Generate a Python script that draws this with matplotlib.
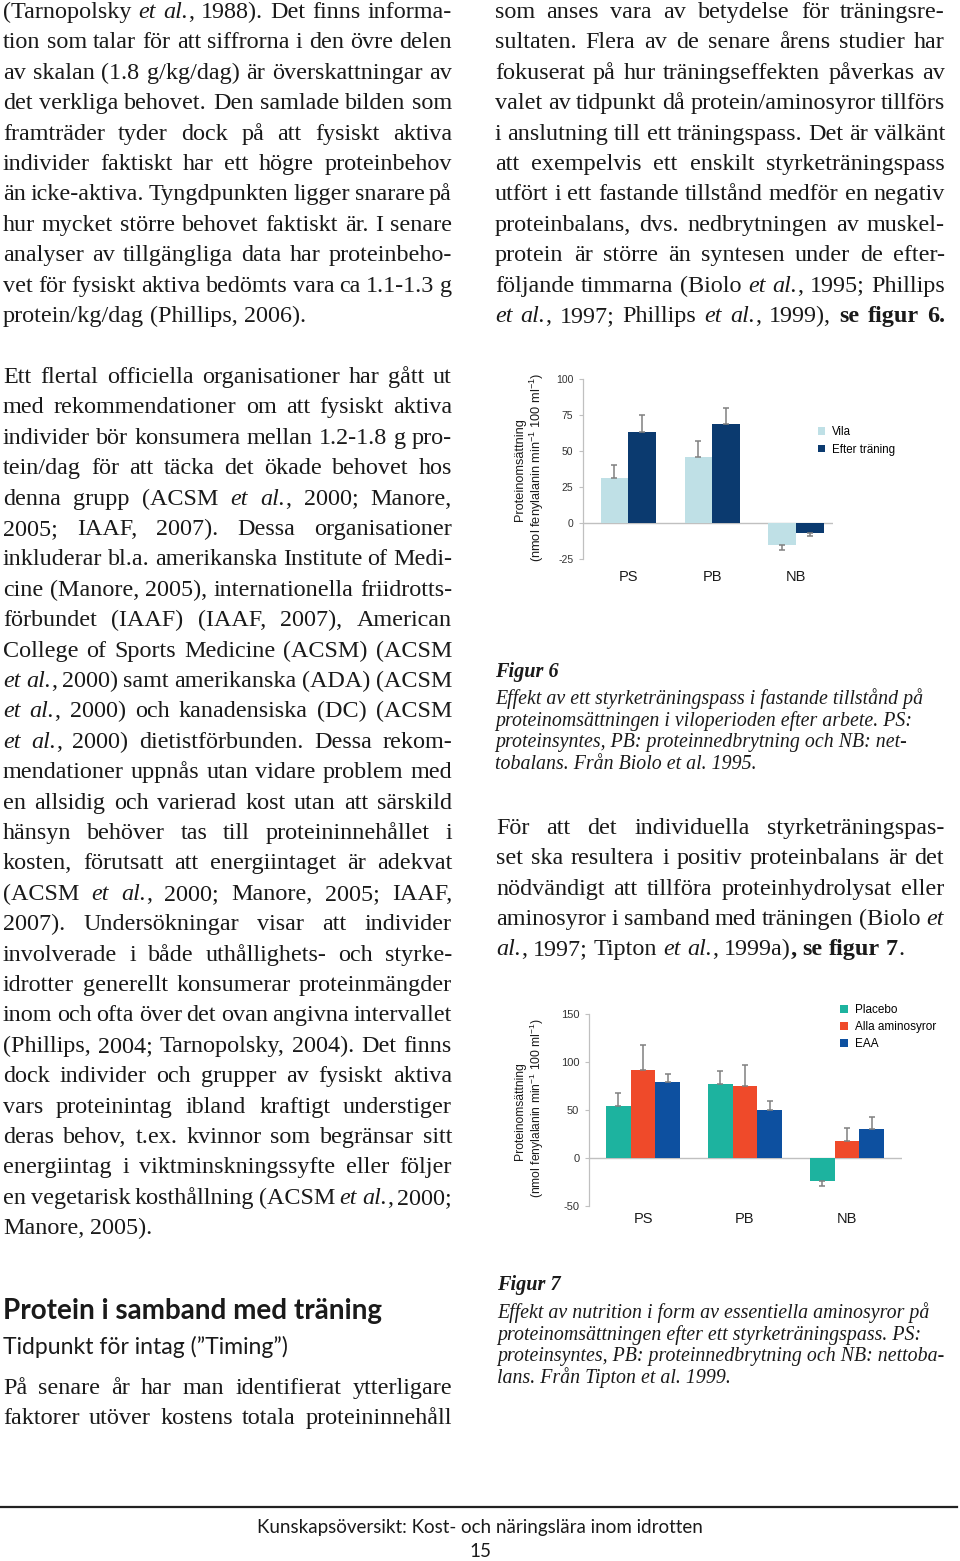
import re
import matplotlib
matplotlib.use("Agg")
import matplotlib.pyplot as plt
import numpy as np

plt.rcParams['mathtext.default'] = 'regular'

SERIF = 'Liberation Serif'
SANS = 'Liberation Sans'
HEAD = 'Lato'

# --- chart data ---------------------------------------------------------
groups = ['PS', 'PB', 'NB']

fig6_series = ['Vila', 'Efter träning']
fig6_values = [[31.5, 46.0, -15.0],
               [63.3, 68.6, -6.7]]
fig6_errors = [[9.0, 11.0, 3.5],
               [12.0, 11.0, 2.4]]
fig6_colors = ['#bfe0e6', '#0b3a6f']
fig6_yticks = [-25, 0, 25, 50, 75, 100]

fig7_series = ['Placebo', 'Alla aminosyror', 'EAA']
fig7_values = [[54.5, 77.2, -23.9],
               [91.4, 74.8, 17.7],
               [79.3, 50.2, 29.8]]
fig7_errors = [[13.0, 13.0, 5.2],
               [26.0, 22.5, 13.8],
               [8.3, 9.0, 13.0]]
fig7_colors = ['#1db39f', '#ef4a2a', '#0d50a0']
fig7_yticks = [-50, 0, 50, 100, 150]

ylabel1 = 'Proteinomsättning'
ylabel2 = r'(nmol fenylalanin min$^{-1}$ 100 ml$^{-1}$)'

# --- page text ----------------------------------------------------------
left_par1 = [
    "(Tarnopolsky {i:et} {i:al.}, 1988). Det finns informa-",
    "tion som talar för att siffrorna i den övre delen",
    "av skalan (1.8 g/kg/dag) är överskattningar av",
    "det verkliga behovet. Den samlade bilden som",
    "framträder tyder dock på att fysiskt aktiva",
    "individer faktiskt har ett högre proteinbehov",
    "än icke-aktiva. Tyngdpunkten ligger snarare på",
    "hur mycket större behovet faktiskt är. I senare",
    "analyser av tillgängliga data har proteinbeho-",
    "vet för fysiskt aktiva bedömts vara ca 1.1-1.3 g",
    "protein/kg/dag (Phillips, 2006).",
]
left_par2 = [
    "Ett flertal officiella organisationer har gått ut",
    "med rekommendationer om att fysiskt aktiva",
    "individer bör konsumera mellan 1.2-1.8 g pro-",
    "tein/dag för att täcka det ökade behovet hos",
    "denna grupp (ACSM {i:et} {i:al.}, 2000; Manore,",
    "2005; IAAF, 2007). Dessa organisationer",
    "inkluderar bl.a. amerikanska Institute of Medi-",
    "cine (Manore, 2005), internationella friidrotts-",
    "förbundet (IAAF) (IAAF, 2007), American",
    "College of Sports Medicine (ACSM) (ACSM",
    "{i:et} {i:al.}, 2000) samt amerikanska (ADA) (ACSM",
    "{i:et} {i:al.}, 2000) och kanadensiska (DC) (ACSM",
    "{i:et} {i:al.}, 2000) dietistförbunden. Dessa rekom-",
    "mendationer uppnås utan vidare problem med",
    "en allsidig och varierad kost utan att särskild",
    "hänsyn behöver tas till proteininnehållet i",
    "kosten, förutsatt att energiintaget är adekvat",
    "(ACSM {i:et} {i:al.}, 2000; Manore, 2005; IAAF,",
    "2007). Undersökningar visar att individer",
    "involverade i både uthållighets- och styrke-",
    "idrotter generellt konsumerar proteinmängder",
    "inom och ofta över det ovan angivna intervallet",
    "(Phillips, 2004; Tarnopolsky, 2004). Det finns",
    "dock individer och grupper av fysiskt aktiva",
    "vars proteinintag ibland kraftigt understiger",
    "deras behov, t.ex. kvinnor som begränsar sitt",
    "energiintag i viktminskningssyfte eller följer",
    "en vegetarisk kosthållning (ACSM {i:et} {i:al.}, 2000;",
    "Manore, 2005).",
]
left_par3 = [
    "På senare år har man identifierat ytterligare",
    "faktorer utöver kostens totala proteininnehåll",
]
right_par1 = [
    "som anses vara av betydelse för träningsre-",
    "sultaten. Flera av de senare årens studier har",
    "fokuserat på hur träningseffekten påverkas av",
    "valet av tidpunkt då protein/aminosyror tillförs",
    "i anslutning till ett träningspass. Det är välkänt",
    "att exempelvis ett enskilt styrketräningspass",
    "utfört i ett fastande tillstånd medför en negativ",
    "proteinbalans, dvs. nedbrytningen av muskel-",
    "protein är större än syntesen under de efter-",
    "följande timmarna (Biolo {i:et} {i:al.}, 1995; Phillips",
    "{i:et} {i:al.}, 1997; Phillips {i:et} {i:al.}, 1999), {b:se} {b:figur} {b:6.}",
]
right_par2 = [
    "För att det individuella styrketräningspas-",
    "set ska resultera i positiv proteinbalans är det",
    "nödvändigt att tillföra proteinhydrolysat eller",
    "aminosyror i samband med träningen (Biolo {i:et}",
    "{i:al.}, 1997; Tipton {i:et} {i:al.}, 1999a){b:,} {b:se} {b:figur} {b:7}.",
]
caption6 = [
    "Effekt av ett styrketräningspass i fastande tillstånd på",
    "proteinomsättningen i viloperioden efter arbete. PS:",
    "proteinsyntes, PB: proteinnedbrytning och NB: net-",
    "tobalans. Från Biolo et al. 1995.",
]
caption7 = [
    "Effekt av nutrition i form av essentiella aminosyror på",
    "proteinomsättningen efter ett styrketräningspass. PS:",
    "proteinsyntes, PB: proteinnedbrytning och NB: nettoba-",
    "lans. Från Tipton et al. 1999.",
]

W, H = 960, 1561
BODY = 17.4
fig = plt.figure(figsize=(W / 100, H / 100), dpi=100)
page = fig.add_axes([0, 0, 1, 1])
page.set_xlim(0, W)
page.set_ylim(H, 0)
page.axis('off')
renderer = fig.canvas.get_renderer()

STYLES = {'r': {}, 'i': {'fontstyle': 'italic'}, 'b': {'fontweight': 'bold'}}
RUN = re.compile(r'\{([ib]):([^}]*)\}')
INK = '#1a1a1a'


def parse_word(token):
    runs, pos = [], 0
    for m in RUN.finditer(token):
        if m.start() > pos:
            runs.append((token[pos:m.start()], 'r'))
        runs.append((m.group(2), m.group(1)))
        pos = m.end()
    if pos < len(token):
        runs.append((token[pos:], 'r'))
    return runs


def width_of(t):
    return t.get_window_extent(renderer).width


def set_line(x0, x1, y, line, size, justify):
    words = []
    for token in line.split():
        runs = []
        for s, st in parse_word(token):
            t = page.text(0, y, s, fontsize=size, family=SERIF, color=INK,
                          va='baseline', ha='left', **STYLES[st])
            runs.append(t)
        words.append(runs)
    space = size * 100 / 72 * 0.25
    widths = [sum(width_of(t) for t in runs) for runs in words]
    n_gap = max(len(words) - 1, 1)
    natural = sum(widths) + n_gap * space * 0.6
    if natural > x1 - x0:
        # squeeze an overlong line a little
        scale = (x1 - x0) / natural
        for runs in words:
            for t in runs:
                t.set_fontsize(size * scale)
        widths = [sum(width_of(t) for t in runs) for runs in words]
    if justify and len(words) > 1:
        gap = (x1 - x0 - sum(widths)) / n_gap
    else:
        gap = space
    x = x0
    for runs in words:
        for t in runs:
            t.set_x(x)
            x += width_of(t)
        x += gap


def paragraph(x0, x1, y0, step, lines, size=BODY, justify_last=False):
    for k, line in enumerate(lines):
        last = k == len(lines) - 1
        set_line(x0, x1, y0 + k * step, line, size, justify_last or not last)


def fitted(x, y, s, width, size, **kw):
    t = page.text(x, y, s, fontsize=size, va='baseline', color=INK, **kw)
    t.set_fontsize(size * width / width_of(t))
    return t


paragraph(3, 452, 18, 30.4, left_par1)
paragraph(3, 452, 383, 30.4, left_par2)
paragraph(3, 452, 1394, 30.0, left_par3, justify_last=True)
paragraph(495, 945, 18, 30.4, right_par1, justify_last=True)
paragraph(496, 944, 834, 30.35, right_par2)

fitted(3, 1319, 'Protein i samband med träning', 380, 18, family=HEAD, fontweight='bold')
fitted(3, 1354, 'Tidpunkt för intag (”Timing”)', 286, 15, family=HEAD)

CAP = 14.3
page.text(495, 677, 'Figur 6', fontsize=14.6, family=SERIF, fontweight='bold',
          fontstyle='italic', va='baseline', color=INK)
for k, line in enumerate(caption6):
    page.text(495, 704 + k * 21.7, line, fontsize=CAP, family=SERIF,
              fontstyle='italic', va='baseline', color=INK)
page.text(497, 1290, 'Figur 7', fontsize=14.6, family=SERIF, fontweight='bold',
          fontstyle='italic', va='baseline', color=INK)
for k, line in enumerate(caption7):
    page.text(497, 1318 + k * 21.7, line, fontsize=CAP, family=SERIF,
              fontstyle='italic', va='baseline', color=INK)

page.axhline(1507, xmin=0, xmax=957 / W, color='#222222', lw=1.6)
ft = page.text(480, 1533, 'Kunskapsöversikt: Kost- och näringslära inom idrotten',
               fontsize=13, family=HEAD, ha='center', va='baseline', color=INK)
ft.set_fontsize(13 * 444 / width_of(ft))
page.text(480, 1557, '15', fontsize=ft.get_fontsize(), family=HEAD,
          ha='center', va='baseline', color=INK)


# --- charts -------------------------------------------------------------
def px_axes(left, top, right, bottom):
    return fig.add_axes([left / W, 1 - bottom / H, (right - left) / W, (bottom - top) / H])


def bar_chart(ax, series, values, errors, colors, width, yticks, xlim,
              tick_size, cat_size, cat_pad):
    x = np.arange(len(groups))
    n = len(series)
    bars = []
    for i, (name, vals, errs, c) in enumerate(zip(series, values, errors, colors)):
        pos = x + (i - (n - 1) / 2) * width
        vals = np.array(vals)
        errs = np.array(errs)
        lower = np.where(vals < 0, errs, 0)
        upper = np.where(vals >= 0, errs, 0)
        b = ax.bar(pos, vals, width, color=c, label=name, zorder=2)
        ax.errorbar(pos, vals, yerr=[lower, upper], fmt='none', ecolor='#808080',
                    elinewidth=1.1, capsize=2.5, capthick=1.1, zorder=3)
        bars.append(b)
    ax.axhline(0, color='#c0c0c0', lw=1, zorder=1)
    ax.set_xlim(*xlim)
    ax.set_ylim(yticks[0], yticks[-1])
    ax.set_yticks(yticks)
    ax.set_yticklabels([str(v) for v in yticks], fontsize=tick_size, family=SANS, color='#333333')
    ax.set_xticks(x)
    ax.set_xticklabels(groups, fontsize=cat_size, family=SANS, color='#1a1a1a')
    ax.tick_params(axis='x', length=0, pad=cat_pad)
    ax.tick_params(axis='y', length=3, color='#c0c0c0', width=0.8, pad=4)
    for s in ['top', 'right', 'bottom']:
        ax.spines[s].set_visible(False)
    ax.spines['left'].set_color('#c0c0c0')
    ax.spines['left'].set_linewidth(0.9)
    ax.patch.set_alpha(0)
    return bars


ax1 = px_axes(583, 379, 833, 559)
bars1 = bar_chart(ax1, fig6_series, fig6_values, fig6_errors, fig6_colors, 0.33,
                  fig6_yticks, (-0.54, 2.44), 7.5, 10.5, 8)
ax1.legend(loc='upper left', bbox_to_anchor=(818 / W, 1 - 426 / H),
           bbox_transform=fig.transFigure, frameon=False, borderpad=0, borderaxespad=0,
           handlelength=0.6, handleheight=0.6, handletextpad=0.6, labelspacing=0.5,
           prop={'family': SANS, 'size': 8.3})

ax2 = px_axes(589, 1014, 902, 1206)
bars2 = bar_chart(ax2, fig7_series, fig7_values, fig7_errors, fig7_colors, 0.242,
                  fig7_yticks, (-0.53, 2.54), 8, 10.5, 4.5)
ax2.legend(loc='upper left', bbox_to_anchor=(840 / W, 1 - 1004 / H),
           bbox_transform=fig.transFigure, frameon=False, borderpad=0, borderaxespad=0,
           handlelength=0.65, handleheight=0.65, handletextpad=0.6, labelspacing=0.42,
           prop={'family': SANS, 'size': 8.5})

for cx, cy, size in [(520, 470, 9.2), (520, 1111, 8.7)]:
    page.text(cx, cy, ylabel1, rotation=90, ha='center', va='center',
              fontsize=size, family=SANS, color='#1a1a1a')
    page.text(cx + 17, cy - 3, ylabel2, rotation=90, ha='center', va='center',
              fontsize=size, family=SANS, color='#1a1a1a')

fig.savefig('out.png', dpi=100)
